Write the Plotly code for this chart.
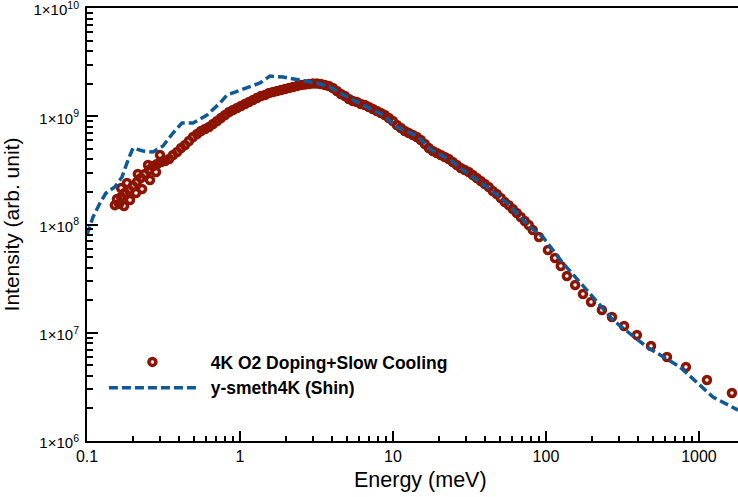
import plotly.graph_objects as go

# ---- data: 4K O2 Doping + Slow Cooling (measured points) ----
red_energy = [
    0.152, 0.157, 0.162, 0.167, 0.167, 0.1745, 0.177, 0.1826, 0.188, 0.191,
    0.200, 0.209, 0.212, 0.215, 0.225, 0.2289, 0.239, 0.2505, 0.254, 0.258,
    0.270, 0.2825, 0.287, 0.300, 0.305, 0.324, 0.344, 0.365, 0.388, 0.412,
    0.437, 0.464, 0.493, 0.524, 0.556, 0.591, 0.627, 0.666, 0.708, 0.751,
    0.798, 0.848, 0.900, 0.956, 1.015, 1.078, 1.145, 1.216, 1.291, 1.371,
    1.456, 1.547, 1.643, 1.744, 1.853, 1.967, 2.089, 2.219, 2.356, 2.502,
    2.658, 2.822, 2.997, 3.183, 3.381, 3.590, 3.813, 4.049, 4.300, 4.567,
    4.850, 5.151, 5.470, 5.810, 6.170, 6.552, 6.958, 7.390, 7.848, 8.334,
    8.851, 9.400, 9.983, 10.60, 11.26, 11.96, 12.70, 13.49, 14.32, 15.21,
    16.15, 17.15, 18.22, 19.35, 20.55, 21.82, 23.17, 24.61, 26.14, 27.76,
    29.48, 31.31, 33.25, 35.31, 37.50, 39.82, 42.29, 44.91, 47.70, 50.65,
    53.79, 57.13, 60.67, 64.43, 68.43, 72.67, 77.18, 81.96,
    90.0, 103.0, 114.5, 125.0, 137.0, 155.0, 174.5, 197.0, 232.0, 270.0,
    324.0, 393.0, 486.0, 618.0, 822.0, 1128.0, 1643.0,
]
red_intensity = [
    1.51e8, 1.72e8, 1.55e8, 1.795e8, 2.17e8, 1.48e8, 1.954e8, 2.42e8, 2.08e8, 1.68e8,
    2.27e8, 1.95e8, 2.47e8, 2.93e8, 2.69e8, 2.13e8, 2.93e8, 3.55e8, 3.19e8, 2.58e8,
    3.47e8, 3.05e8, 3.62e8, 4.39e8, 3.78e8, 3.86e8, 4.03e8, 4.39e8, 4.67e8, 5.09e8,
    5.43e8, 5.91e8, 6.43e8, 6.85e8, 7.31e8, 7.63e8, 7.96e8, 8.48e8, 9.04e8, 9.63e8,
    1.027e9, 1.095e9, 1.142e9, 1.192e9, 1.244e9, 1.298e9, 1.354e9, 1.413e9, 1.474e9, 1.538e9,
    1.571e9, 1.640e9, 1.675e9, 1.711e9, 1.748e9, 1.785e9, 1.824e9, 1.863e9, 1.902e9, 1.944e9,
    1.965e9, 1.986e9, 2.007e9, 2.007e9, 1.986e9, 1.944e9, 1.902e9, 1.824e9, 1.711e9, 1.605e9,
    1.538e9, 1.443e9, 1.383e9, 1.354e9, 1.298e9, 1.270e9, 1.218e9, 1.167e9, 1.118e9, 1.072e9,
    1.027e9, 9.63e8, 9.04e8, 8.30e8, 7.79e8, 7.31e8, 7.00e8, 6.71e8, 6.43e8, 6.03e8,
    5.54e8, 5.09e8, 4.78e8, 4.58e8, 4.39e8, 4.20e8, 4.03e8, 3.78e8, 3.55e8, 3.33e8,
    3.19e8, 3.05e8, 2.87e8, 2.69e8, 2.52e8, 2.37e8, 2.22e8, 2.04e8, 1.91e8, 1.76e8,
    1.61e8, 1.51e8, 1.39e8, 1.277e8, 1.173e8, 1.077e8, 9.89e7, 8.90e7,
    7.66e7, 5.81e7, 4.90e7, 4.14e7, 3.34e7, 2.76e7, 2.28e7, 1.92e7, 1.62e7, 1.40e7,
    1.155e7, 9.53e6, 7.55e6, 5.97e6, 4.83e6, 3.66e6, 2.78e6,
]

# ---- data: y-smeth4K (Shin) model curve ----
blue_energy = [
    0.100, 0.1094, 0.1216, 0.1331, 0.152, 0.1694, 0.1854, 0.1999, 0.2323, 0.270,
    0.3138, 0.3648, 0.4178, 0.493, 0.609, 0.740, 0.822, 1.046, 1.351, 1.57,
    1.91, 2.466, 3.19, 3.87, 4.50, 6.37, 8.60, 10.6, 14.4, 17.5,
    23.6, 28.7, 41.1, 55.6, 78.6, 95.5, 129.0, 185.0, 274.0, 457.0,
    751.0, 1234.0, 1800.0,
]
blue_intensity = [
    8.0e7, 1.17e8, 1.58e8, 1.954e8, 2.22e8, 2.75e8, 3.94e8, 5.09e8, 4.78e8, 4.67e8,
    5.31e8, 7.00e8, 8.66e8, 8.66e8, 1.027e9, 1.326e9, 1.571e9, 1.785e9, 2.029e9, 2.35e9,
    2.30e9, 2.16e9, 2.03e9, 1.863e9, 1.640e9, 1.270e9, 1.027e9, 7.96e8, 6.57e8, 4.98e8,
    3.94e8, 3.19e8, 2.22e8, 1.58e8, 9.48e7, 7.66e7, 4.41e7, 2.48e7, 1.31e7, 7.38e6,
    4.83e6, 2.55e6, 1.93e6,
]

x_tick_vals = [0.1, 1, 10, 100, 1000]
x_tick_text = ["0.1", "1", "10", "100", "1000"]
y_tick_vals = [1e6, 1e7, 1e8, 1e9, 1e10]
y_tick_text = ["1×10<sup>6</sup>", "1×10<sup>7</sup>", "1×10<sup>8</sup>",
               "1×10<sup>9</sup>", "1×10<sup>10</sup>"]

x_minor = [m * 10 ** d for d in range(-1, 4) for m in range(2, 10)]
y_minor = [m * 10 ** d for d in range(6, 10) for m in range(2, 10)]

RED = "#8C1400"
BLUE = "#0F5A96"
FONT = "Liberation Sans, Arial, Helvetica, sans-serif"
NB = "\u00a0\u00a0"

fig = go.Figure()
fig.add_trace(go.Scatter(
    x=red_energy, y=red_intensity, mode="markers",
    name=NB + "4K O2 Doping+Slow Cooling",
    marker=dict(symbol="circle-open", size=7, color=RED, line=dict(width=3.5, color=RED)),
))
fig.add_trace(go.Scatter(
    x=blue_energy, y=blue_intensity, mode="lines",
    name=NB + "y-smeth4K (Shin)",
    line=dict(color=BLUE, width=3.5, dash="9px,4px"),
))

fig.update_layout(
    width=738, height=497,
    margin=dict(l=87, r=0, t=8, b=56),
    paper_bgcolor="white", plot_bgcolor="white",
    font=dict(family=FONT, color="black"),
    showlegend=True,
    legend=dict(
        x=0.026, y=0.224, xanchor="left", yanchor="top",
        bgcolor="rgba(0,0,0,0)", itemwidth=87, tracegroupgap=0,
        font=dict(family=FONT, size=17.5, color="black", weight="bold"),
    ),
    xaxis=dict(
        type="log", range=[-1, 3.2553], automargin=False,
        tickmode="array", tickvals=x_tick_vals, ticktext=x_tick_text,
        ticks="inside", ticklen=10, tickwidth=2, tickcolor="black",
        minor=dict(tickmode="array", tickvals=x_minor, ticks="inside",
                   ticklen=5, tickwidth=1.5, tickcolor="black", showgrid=False),
        showline=True, linewidth=2, linecolor="black", mirror=True,
        showgrid=False, zeroline=False, ticklabeloverflow="allow",
        tickfont=dict(size=16, family=FONT),
    ),
    yaxis=dict(
        type="log", range=[5.9999, 10.0001], automargin=False,
        tickmode="array", tickvals=y_tick_vals, ticktext=y_tick_text,
        ticks="inside", ticklen=11, tickwidth=2, tickcolor="black",
        minor=dict(tickmode="array", tickvals=y_minor, ticks="inside",
                   ticklen=6, tickwidth=1.5, tickcolor="black", showgrid=False),
        showline=True, linewidth=2, linecolor="black",
        showgrid=False, zeroline=False, ticklabelstandoff=3, ticklabeloverflow="allow",
        ticklabelshift=2,
        tickfont=dict(size=15, family=FONT),
        title=dict(text="Intensity (arb. unit)", font=dict(size=21, family=FONT), standoff=10),
    ),
    annotations=[dict(
        text="Energy (meV)", xref="paper", yref="paper",
        x=0.513, y=-0.09, xanchor="center", yanchor="middle",
        showarrow=False, font=dict(size=21.5, family=FONT, color="black"),
    )],
)

fig.write_html(
    "out.html",
    config={"displayModeBar": False},
    post_script="document.body.style.margin='0px'; document.body.style.overflow='hidden';",
)
